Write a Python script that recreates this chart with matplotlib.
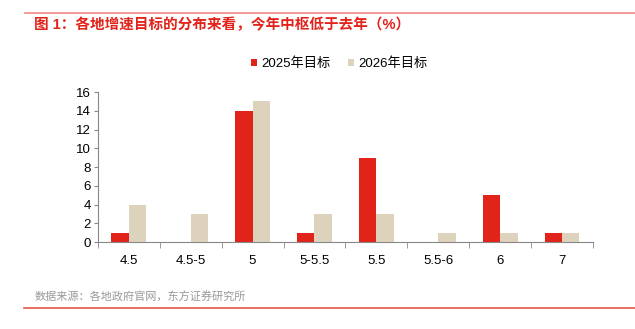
import numpy as np
import matplotlib.pyplot as plt
from matplotlib.lines import Line2D

plt.rcParams['font.family'] = ['Liberation Sans', 'Noto Sans CJK SC', 'DejaVu Sans']

# 各地增速目标分布（地区个数）
categories = ['4.5', '4.5-5', '5', '5-5.5', '5.5', '5.5-6', '6', '7']
target_2025 = [1, 0, 14, 1, 9, 0, 5, 1]
target_2026 = [4, 3, 15, 3, 3, 1, 1, 1]
series_names = ['2025年目标', '2026年目标']
yticks = [0, 2, 4, 6, 8, 10, 12, 14, 16]

red = '#E2231A'
beige = '#DDD3BC'

fig = plt.figure(figsize=(6.35, 3.29), dpi=100)
ax = fig.add_axes([0.154, 0.264, 0.780, 0.456])

x = np.arange(len(categories))
w = 0.28
ax.bar(x - w / 2, target_2025, width=w, color=red, label=series_names[0])
ax.bar(x + w / 2, target_2026, width=w, color=beige, label=series_names[1])

ax.set_xlim(-0.5, len(categories) - 0.5)
ax.set_ylim(0, 16)
ax.set_yticks(yticks)
ax.tick_params(axis='y', labelsize=9.5, length=3, color='#888888', pad=2)
ax.set_xticks(x)
ax.set_xticklabels(categories, fontsize=9.5)
ax.tick_params(axis='x', length=0, pad=9)
# 类别之间的分隔刻度
ax.set_xticks(np.arange(len(categories) + 1) - 0.5, minor=True)
ax.tick_params(axis='x', which='minor', length=4, color='#888888')

for s in ['top', 'right']:
    ax.spines[s].set_visible(False)
ax.spines['left'].set_color('#888888')
ax.spines['bottom'].set_color('#888888')
ax.spines['left'].set_linewidth(0.8)
ax.spines['bottom'].set_linewidth(0.8)

ax.legend(loc='lower center', bbox_to_anchor=(0.487, 1.067), ncol=2, frameon=False,
          fontsize=9.5, handlelength=0.5, handleheight=0.5, handletextpad=0.3,
          columnspacing=1.3)

# 标题、来源与上下分隔线
fig.add_artist(Line2D([0.04, 1.0], [0.960, 0.960], color='#F08A86', lw=1.2))
fig.text(0.054, 0.925, '图 1：各地增速目标的分布来看，今年中枢低于去年（%）',
         fontsize=10.5, color=red, fontweight='bold', va='center')
fig.text(0.054, 0.097, '数据来源：各地政府官网，东方证券研究所',
         fontsize=8, color='#999999', va='center')
fig.add_artist(Line2D([0.038, 1.0], [0.064, 0.064], color='#E4574C', lw=1.2))

fig.savefig('out.png', dpi=100)
